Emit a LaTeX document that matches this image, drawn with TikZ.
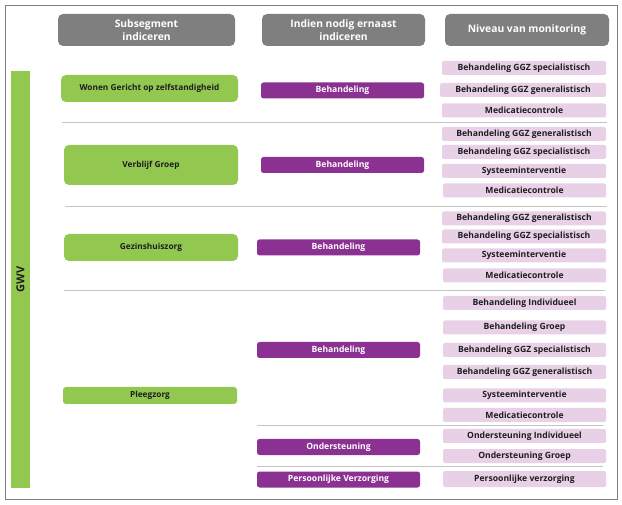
\documentclass[tikz,border=0pt]{standalone}
\usepackage{fontspec}
\setmainfont{Open Sans}
\definecolor{kopgrijs}{HTML}{7F7F7F}
\definecolor{gwvgroen}{HTML}{92C850}
\definecolor{paars}{HTML}{8A3191}
\definecolor{lichtpaars}{HTML}{E8D1E6}
\definecolor{lijngrijs}{HTML}{C4C4C4}
\definecolor{tekst}{HTML}{1E1E1E}
\tikzset{
  kop/.style={shape=rectangle,rounded corners=5pt,fill=kopgrijs,text=white,
    font=\bfseries\fontsize{10.3}{12.5}\selectfont,align=center,minimum height=32pt,inner sep=0pt},
  subseg/.style={shape=rectangle,rounded corners=5pt,fill=gwvgroen,text=tekst,
    font=\bfseries\fontsize{8.3}{10}\selectfont,minimum width=174pt,inner sep=0pt},
  extra/.style={shape=rectangle,rounded corners=2.5pt,fill=paars,text=white,
    font=\bfseries\fontsize{8.6}{10}\selectfont,minimum width=163pt,minimum height=16pt,inner sep=0pt},
  niveau/.style={shape=rectangle,rounded corners=2pt,fill=lichtpaars,text=tekst,
    font=\bfseries\fontsize{8.6}{10}\selectfont,minimum width=164pt,minimum height=14pt,inner sep=0pt},
  scheiding/.style={draw=lijngrijs,line width=1pt}
}
\begin{document}
\begin{tikzpicture}[x=1pt,y=-1pt]
\useasboundingbox (0,0) rectangle (622,505);
\draw [kopgrijs,line width=0.9pt] (5,5) rectangle (617,499);
% kolomkoppen
\node (k1) at (146.5,30) [kop,minimum width=177pt] {Subsegment\\indiceren};
\node (k2) at (343.5,30) [kop,minimum width=163pt] {Indien nodig ernaast\\indiceren};
\node (k3) at (527,30)   [kop,minimum width=164pt] {Niveau van monitoring};
% segment
\node (gwv) at (20.5,279.5) [shape=rectangle,fill=gwvgroen,rotate=90,minimum width=417pt,
  minimum height=19pt,inner sep=0pt,font=\bfseries\fontsize{11}{13}\selectfont,text=tekst] {GWV};
% subsegmenten
\node (wonen)    at (149.5,88.5) [subseg,minimum width=177pt,minimum height=27pt] {Wonen Gericht op zelfstandigheid};
\node (verblijf) at (151,165)    [subseg,minimum height=40pt] {Verblijf Groep};
\node (gezins)   at (151,247.5)  [subseg,minimum height=27pt] {Gezinshuiszorg};
\node (pleeg)    at (150,395.5)  [subseg,rounded corners=3pt,minimum height=17pt] {Pleegzorg};
% ernaast indiceren
\node (beh1) at (342.5,90.5) [extra] {Behandeling};
\node (beh2) at (342.5,165)  [extra] {Behandeling};
\node (beh3) at (338.5,247.5)[extra] {Behandeling};
\node (beh4) at (338.5,350)  [extra] {Behandeling};
\node (ond4) at (338.5,447)  [extra] {Ondersteuning};
\node (pv4)  at (338.5,479.5)[extra] {Persoonlijke Verzorging};
% niveau van monitoring
\node (n1a) at (524,68)    [niveau] {Behandeling GGZ specialistisch};
\node (n1b) at (523,90)    [niveau,minimum width=166pt] {Behandeling GGZ generalistisch};
\node (n1c) at (524,110.5) [niveau] {Medicatiecontrole};
\node (n2a) at (524,134)   [niveau] {Behandeling GGZ generalistisch};
\node (n2b) at (524,152)   [niveau] {Behandeling GGZ specialistisch};
\node (n2c) at (524,171)   [niveau] {Systeeminterventie};
\node (n2d) at (524.5,190.5) [niveau,minimum width=163pt] {Medicatiecontrole};
\node (n3a) at (524,218.5) [niveau] {Behandeling GGZ generalistisch};
\node (n3b) at (524,236.5) [niveau] {Behandeling GGZ specialistisch};
\node (n3c) at (524,255.5) [niveau] {Systeeminterventie};
\node (n3d) at (524.5,275.5) [niveau,minimum width=163pt] {Medicatiecontrole};
\node (n4a) at (524.5,303)   [niveau,minimum width=163pt] {Behandeling Individueel};
\node (n4b) at (524.5,327.5) [niveau,minimum width=163pt] {Behandeling Groep};
\node (n4c) at (524.5,350)   [niveau,minimum width=163pt] {Behandeling GGZ specialistisch};
\node (n4d) at (524.5,372)   [niveau,minimum width=163pt] {Behandeling GGZ generalistisch};
\node (n4e) at (524.5,395.5) [niveau,minimum width=163pt] {Systeeminterventie};
\node (n4f) at (524.5,415)   [niveau,minimum width=163pt] {Medicatiecontrole};
\node (n4g) at (524.5,436)   [niveau,minimum width=163pt] {Ondersteuning Individueel};
\node (n4h) at (524.5,456)   [niveau,minimum width=163pt] {Ondersteuning Groep};
\node (n4i) at (524.5,479)   [niveau,minimum width=163pt,minimum height=16pt] {Persoonlijke verzorging};
% scheidingslijnen
\draw [scheiding] (62,122.5) -- (607,122.5);
\draw [scheiding] (65,207) -- (607,207);
\draw [scheiding] (64,291) -- (605,291);
\draw [scheiding] (257,426) -- (603,426);
\draw [scheiding] (257,466) -- (603,466);
\end{tikzpicture}
\end{document}
